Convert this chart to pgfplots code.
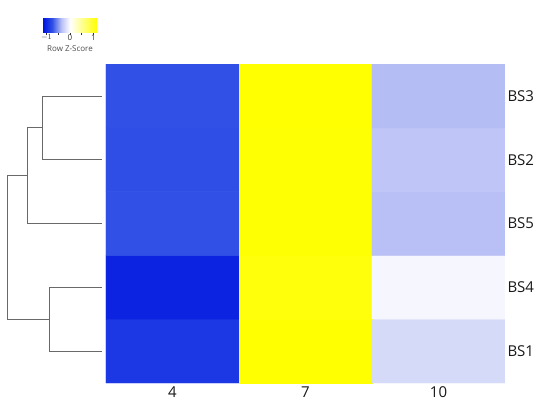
\documentclass[border=0pt]{standalone}
\usepackage{fontspec}
\setmainfont{Open Sans}
\usepackage{pgfplots}
\pgfplotsset{compat=1.18}
\usepackage{pgfplotstable}

\definecolor{dendro}{RGB}{105,105,105}
\definecolor{lbl}{RGB}{25,25,25}

% row z-scores: x = column (4,7,10), y = row (1=BS1 ... 5=BS3)
\pgfplotstableread{
x y z
0 1 -0.92
1 1 1.14
2 1 -0.22
0 2 -1.05
1 2 1.10
2 2 -0.05
0 3 -0.76
1 3 1.13
2 3 -0.37
0 4 -0.77
1 4 1.13
2 4 -0.34
0 5 -0.76
1 5 1.14
2 5 -0.38
}\zdata

\begin{document}
\begin{tikzpicture}
\begin{axis}[
    at={(0pt,0pt)}, anchor=south west,
    scale only axis,
    width=399pt, height=319pt,
    xmin=-0.5, xmax=2.5, ymin=0.5, ymax=5.5,
    enlargelimits=false,
    axis line style={draw=none},
    tick style={draw=none},
    xtick={0,1,2}, xticklabels={4,7,10},
    ytick={1,2,3,4,5}, yticklabels={BS1,BS4,BS5,BS2,BS3},
    yticklabel pos=right,
    ticklabel style={font=\fontsize{15}{17}\selectfont, text=lbl},
    xticklabel style={yshift=0pt},
    yticklabel style={xshift=-1pt},
    colormap={zscore}{rgb255(0pt)=(0,20,225) rgb255(39pt)=(48,80,230) rgb255(78pt)=(185,192,245) rgb255(115pt)=(255,255,255) rgb255(230pt)=(255,255,0)},
    point meta min=-1.15, point meta max=1.15,
    colorbar horizontal,
    colorbar style={
        at={(parent axis.north west)}, anchor=south west,
        xshift=-63pt, yshift=40pt,
        width=54pt, height=17pt,
        scale only axis,
        axis line style={draw=none},
        xtick={-1,-0.5,0,0.5,1},
        xticklabels={$-1$,,0,,1},
        xtick align=outside,
        xtick pos=bottom,
        major tick length=2.5pt,
        tick style={draw=black!80, line width=0.6pt},
        ticklabel style={font=\fontsize{8}{9}\selectfont, text=black!80, inner sep=1pt},
        xticklabel style={yshift=1.5pt},
        xlabel={Row Z-Score},
        xlabel style={font=\fontsize{8}{9}\selectfont, text=black!70,
            at={(axis description cs:0.5,-0.93)}, anchor=center},
    },
]
\addplot[matrix plot*, mesh/cols=3, point meta=explicit] table[x=x, y=y, meta=z] {\zdata};
\end{axis}

% row dendrogram
\begin{axis}[
    at={(-99pt,0pt)}, anchor=south west,
    scale only axis,
    width=95pt, height=319pt,
    xmin=0, xmax=95, ymin=0.5, ymax=5.5,
    x dir=reverse,
    hide axis,
]
\addplot[dendro, line width=0.8pt] coordinates {(0,5) (60,5) (60,4) (0,4)};
\addplot[dendro, line width=0.8pt] coordinates {(60,4.5) (75,4.5) (75,3) (0,3)};
\addplot[dendro, line width=0.8pt] coordinates {(0,2) (53,2) (53,1) (0,1)};
\addplot[dendro, line width=0.8pt] coordinates {(75,3.75) (95,3.75) (95,1.5) (53,1.5)};
\end{axis}

\pgfresetboundingbox
\path (-106pt,-33pt) rectangle (444pt,383pt);
\end{tikzpicture}
\end{document}
